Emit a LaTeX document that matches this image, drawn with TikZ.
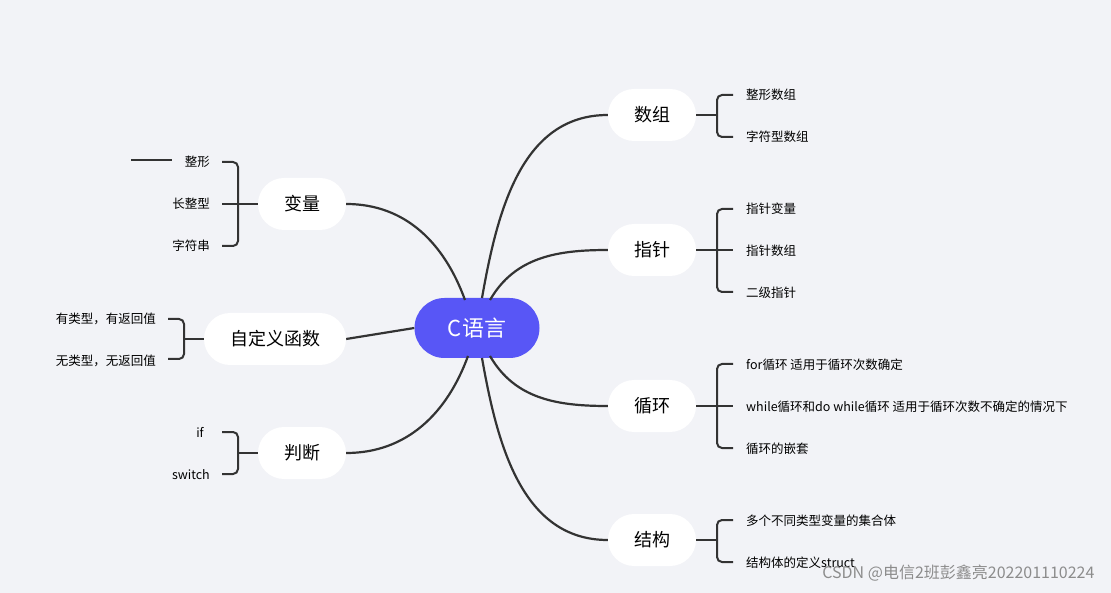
\documentclass[tikz,border=0pt]{standalone}
\usepackage{fontspec}
\setmainfont{Noto Sans CJK SC}
\begin{document}
\begin{tikzpicture}[x=1pt,y=-1pt,
 conn/.style={draw=black!80,line width=2.2pt},
 br/.style={draw=black!80,line width=2pt,rounded corners=5pt},
 child/.style={fill=white,rounded corners=26pt,minimum height=52pt,font=\fontsize{18}{20}\selectfont},
 leaf/.style={font=\fontsize{12.5}{14}\selectfont,inner sep=0pt}]
\fill[fill={rgb,255:red,242;green,243;blue,247}] (0,0) rectangle (1111,593);
\useasboundingbox (0,0) rectangle (1111,593);
\node[fill={rgb,255:red,88;green,86;blue,246},text=white,rounded corners=30pt,minimum width=125pt,minimum height=60pt,font=\fontsize{22}{24}\selectfont] (c) at (477,328) {C语言};
\node[child,minimum width=88pt] (sz) at (652,115) {数组};
\node[child,minimum width=88pt] (zz) at (652,250) {指针};
\node[child,minimum width=88pt] (xh) at (652,406) {循环};
\node[child,minimum width=88pt] (jg) at (652,540) {结构};
\node[child,minimum width=88pt] (bl) at (302,204) {变量};
\node[child,minimum width=142pt] (zd) at (275,339) {自定义函数};
\node[child,minimum width=88pt] (pd) at (302,453) {判断};
\begin{scope}[on background layer/.try]
\draw[conn] (482,298) to[out=80,in=180] (sz.west);
\draw[conn] (490,300) to[out=60,in=180] (zz.west);
\draw[conn] (490,356) to[out=-60,in=180] (xh.west);
\draw[conn] (482,358) to[out=-80,in=180] (jg.west);
\draw[conn] (465,300) to[out=110,in=0] (bl.east);
\draw[conn] (c.west) -- (zd.east);
\draw[conn] (468,356) to[out=-110,in=0] (pd.east);
\end{scope}
% right brackets
\newcommand\rbr[4]{% node, x, ytop, ybot
 \draw[br] (#1.east) -- (#2,0|-#1.east);
 \draw[br] (#2+16,#3) -- (#2,#3) -- (#2,#4) -- (#2+16,#4);}
\rbr{sz}{717}{95}{137}
\rbr{zz}{717}{209}{292}
\draw[br] (717,250) -- (733,250);
\rbr{xh}{717}{364}{448}
\draw[br] (717,406) -- (733,406);
\rbr{jg}{717}{520}{562}
\node[leaf,anchor=west] (a1) at (746,95) {整形数组};
\node[leaf,anchor=west] (a2) at (746,137) {字符型数组};
\node[leaf,anchor=west] (b1) at (746,209) {指针变量};
\node[leaf,anchor=west] (b2) at (746,251) {指针数组};
\node[leaf,anchor=west] (b3) at (746,293) {二级指针};
\node[leaf,anchor=west] (d1) at (746,365) {for循环 适用于循环次数确定};
\node[leaf,anchor=west] (d2) at (746,407) {while循环和do while循环 适用于循环次数不确定的情况下};
\node[leaf,anchor=west] (d3) at (746,449) {循环的嵌套};
\node[leaf,anchor=west] (e1) at (746,521) {多个不同类型变量的集合体};
\node[leaf,anchor=west] (e2) at (746,563) {结构体的定义struct};
% left brackets
\newcommand\lbr[4]{%
 \draw[br] (#1.west) -- (#2,0|-#1.west);
 \draw[br] (#2-16,#3) -- (#2,#3) -- (#2,#4) -- (#2-16,#4);}
\lbr{bl}{238}{162}{246}
\draw[br] (238,204) -- (222,204);
\lbr{zd}{184}{319}{359}
\lbr{pd}{238}{432}{474}
\draw[draw=black!80,line width=2pt] (131,160) -- (172,160);
\node[leaf,anchor=east] (f1) at (210,162) {整形};
\node[leaf,anchor=east] (f2) at (210,204) {长整型};
\node[leaf,anchor=east] (f3) at (210,246) {字符串};
\node[leaf,anchor=east] (g1) at (156,319) {有类型，有返回值};
\node[leaf,anchor=east] (g2) at (156,361) {无类型，无返回值};
\node[leaf,anchor=east] (h1) at (204,432) {if};
\node[leaf,anchor=east] (h2) at (210,475) {switch};
\node[anchor=east,text=white,font=\fontsize{16}{18}\selectfont,
 draw=none,fill=none] (wm) at (1098,573) {\textcolor{black!45}{CSDN @电信2班彭鑫亮202201110224}};
\end{tikzpicture}
\end{document}
